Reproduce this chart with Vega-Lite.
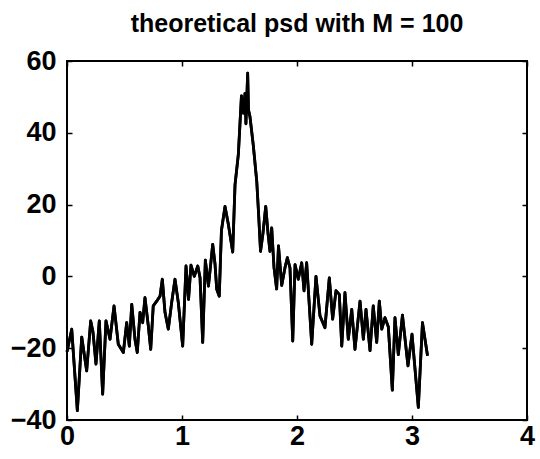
{
  "$schema": "https://vega.github.io/schema/vega-lite/v6.json",
  "width": 460,
  "height": 359,
  "autosize": {"type": "none"},
  "padding": {"left": 67, "top": 61, "right": 13, "bottom": 39},
  "background": "white",
  "title": {"text": "theoretical psd with M = 100", "font": "Liberation Sans", "fontSize": 25, "fontWeight": "bold", "color": "black", "anchor": "middle", "offset": 10},
  "config": {
    "view": {"stroke": "black", "strokeWidth": 2},
    "axis": {"labelFont": "Liberation Sans", "labelFontSize": 27, "labelFontWeight": "bold", "labelColor": "black", "domain": false, "grid": false, "tickColor": "black", "tickSize": -5, "tickWidth": 1.5, "title": null}
  },
  "data": {"values": [
    {"w": 0, "psd": -21},
    {"w": 0.041, "psd": -14.7},
    {"w": 0.09, "psd": -37.4},
    {"w": 0.128, "psd": -16.9},
    {"w": 0.171, "psd": -26.3},
    {"w": 0.206, "psd": -12.4},
    {"w": 0.226, "psd": -15.5},
    {"w": 0.252, "psd": -24.4},
    {"w": 0.281, "psd": -12.4},
    {"w": 0.31, "psd": -32.8},
    {"w": 0.339, "psd": -12.4},
    {"w": 0.374, "psd": -17.5},
    {"w": 0.409, "psd": -8.2},
    {"w": 0.446, "psd": -18.9},
    {"w": 0.49, "psd": -21.2},
    {"w": 0.519, "psd": -12.9},
    {"w": 0.542, "psd": -19.4},
    {"w": 0.563, "psd": -7.8},
    {"w": 0.591, "psd": -17.5},
    {"w": 0.611, "psd": -21.2},
    {"w": 0.635, "psd": -10},
    {"w": 0.658, "psd": -12.9},
    {"w": 0.678, "psd": -5.9},
    {"w": 0.707, "psd": -13.8},
    {"w": 0.728, "psd": -20.3},
    {"w": 0.75, "psd": -8.2},
    {"w": 0.78, "psd": -6.9},
    {"w": 0.809, "psd": -5.5},
    {"w": 0.829, "psd": -0.8},
    {"w": 0.852, "psd": -10},
    {"w": 0.881, "psd": -14.7},
    {"w": 0.91, "psd": -7.3},
    {"w": 0.939, "psd": -0.8},
    {"w": 0.968, "psd": -7.3},
    {"w": 1.006, "psd": -19.4},
    {"w": 1.035, "psd": 2.9},
    {"w": 1.057, "psd": -6.4},
    {"w": 1.078, "psd": 3.1},
    {"w": 1.107, "psd": 0},
    {"w": 1.137, "psd": 2.9},
    {"w": 1.157, "psd": -0.4},
    {"w": 1.18, "psd": -18.4},
    {"w": 1.203, "psd": 4.5},
    {"w": 1.23, "psd": -2.7},
    {"w": 1.267, "psd": 8.9},
    {"w": 1.287, "psd": 3.5},
    {"w": 1.302, "psd": -3.6},
    {"w": 1.324, "psd": -5.5},
    {"w": 1.343, "psd": 12.8},
    {"w": 1.374, "psd": 19.5},
    {"w": 1.403, "psd": 14.5},
    {"w": 1.441, "psd": 6.8},
    {"w": 1.461, "psd": 25.5},
    {"w": 1.49, "psd": 34},
    {"w": 1.517, "psd": 50.3},
    {"w": 1.533, "psd": 45.5},
    {"w": 1.548, "psd": 51},
    {"w": 1.556, "psd": 42.5},
    {"w": 1.571, "psd": 56.6},
    {"w": 1.578, "psd": 46.4},
    {"w": 1.591, "psd": 44.5},
    {"w": 1.62, "psd": 36.5},
    {"w": 1.65, "psd": 26.5},
    {"w": 1.665, "psd": 18},
    {"w": 1.683, "psd": 7},
    {"w": 1.704, "psd": 12},
    {"w": 1.728, "psd": 19.5},
    {"w": 1.748, "psd": 12},
    {"w": 1.765, "psd": 7},
    {"w": 1.78, "psd": 13.5},
    {"w": 1.8, "psd": 2.5},
    {"w": 1.823, "psd": -3.5},
    {"w": 1.839, "psd": 8.5},
    {"w": 1.867, "psd": -2.5},
    {"w": 1.896, "psd": 2.5},
    {"w": 1.916, "psd": 5.2},
    {"w": 1.939, "psd": 2.4},
    {"w": 1.963, "psd": -18},
    {"w": 1.983, "psd": 3.3},
    {"w": 2.011, "psd": -0.8},
    {"w": 2.041, "psd": 3.8},
    {"w": 2.061, "psd": -4},
    {"w": 2.084, "psd": 3.8},
    {"w": 2.128, "psd": -18.9},
    {"w": 2.165, "psd": 0},
    {"w": 2.2, "psd": -11},
    {"w": 2.243, "psd": -14.3},
    {"w": 2.281, "psd": -0.4},
    {"w": 2.31, "psd": -11.9},
    {"w": 2.339, "psd": -4},
    {"w": 2.368, "psd": -5},
    {"w": 2.389, "psd": -19.4},
    {"w": 2.417, "psd": -4.5},
    {"w": 2.446, "psd": -17.5},
    {"w": 2.476, "psd": -9.2},
    {"w": 2.504, "psd": -20.3},
    {"w": 2.548, "psd": -6.9},
    {"w": 2.577, "psd": -17.5},
    {"w": 2.6, "psd": -9.2},
    {"w": 2.635, "psd": -20.7},
    {"w": 2.663, "psd": -8.2},
    {"w": 2.693, "psd": -18.4},
    {"w": 2.716, "psd": -6.9},
    {"w": 2.737, "psd": -14.7},
    {"w": 2.765, "psd": -11.5},
    {"w": 2.794, "psd": -14},
    {"w": 2.829, "psd": -31.7},
    {"w": 2.852, "psd": -11.5},
    {"w": 2.881, "psd": -21.8},
    {"w": 2.917, "psd": -10.8},
    {"w": 2.965, "psd": -24.9},
    {"w": 3.0, "psd": -16.1},
    {"w": 3.055, "psd": -36.5},
    {"w": 3.091, "psd": -12.9},
    {"w": 3.135, "psd": -22.1}
  ]},
  "layer": [
    {
      "mark": {"type": "line", "color": "black", "strokeWidth": 2.8, "strokeJoin": "round"},
      "encoding": {
        "x": {"field": "w", "type": "quantitative", "scale": {"domain": [0, 4], "nice": false, "zero": false}, "axis": {"orient": "bottom", "values": [0, 1, 2, 3, 4], "format": "d", "labelPadding": 8, "labelFlush": false}},
        "y": {"field": "psd", "type": "quantitative", "scale": {"domain": [-40, 60], "nice": false, "zero": false}, "axis": {"orient": "left", "values": [-40, -20, 0, 20, 40, 60], "format": "d", "labelPadding": 16}}
      }
    },
    {
      "mark": {"type": "line", "color": "black", "strokeWidth": 2.8, "strokeJoin": "round"},
      "encoding": {
        "x": {"field": "w", "type": "quantitative", "scale": {"domain": [0, 4], "nice": false, "zero": false}, "axis": {"orient": "top", "values": [0, 1, 2, 3, 4], "labels": false}},
        "y": {"field": "psd", "type": "quantitative", "scale": {"domain": [-40, 60], "nice": false, "zero": false}, "axis": {"orient": "right", "values": [-40, -20, 0, 20, 40, 60], "labels": false}}
      }
    }
  ],
  "resolve": {"axis": {"x": "independent", "y": "independent"}}
}
